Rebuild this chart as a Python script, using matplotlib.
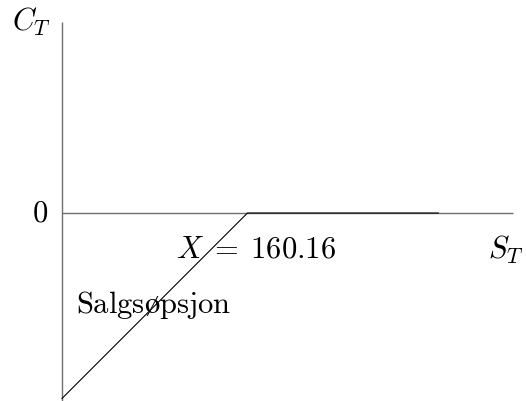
import matplotlib.pyplot as plt

plt.rcParams['mathtext.fontset'] = 'cm'

strike = 160.16
s_t = [0, 160.16, 325]
c_t = [-160.16, 0, 0]

# pixel -> data scale (equal aspect), origin at pixel (62, 213)
scale = 1.158
W, H = 526, 401
ox, oy = 62, 213

fig = plt.figure(figsize=(W / 100, H / 100), dpi=100)
ax = fig.add_axes([0, 0, 1, 1])
ax.set_xlim(-ox / scale, (W - ox) / scale)
ax.set_ylim(-(H - oy) / scale, oy / scale)
ax.axis('off')

# axes
ax.plot([0, 0], [-163, 165], color='#707070', lw=1.0, solid_capstyle='butt')
ax.plot([0, 389.5], [0, 0], color='#707070', lw=1.0, solid_capstyle='butt')

# short put payoff
ax.plot(s_t, c_t, color='black', lw=0.8)


def label(px, py, s, size=22, **kw):
    ax.text(px / W, 1 - py / H, s, transform=ax.transAxes, fontsize=size,
            ha='center', va='center', **kw)


label(31.5, 22, r'$C_T$')
label(40.5, 213, r'$0$')
label(256, 248.5, r'$X\;=\;%.2f$' % strike)
label(506, 249.5, r'$S_T$')
label(153.5, 305, r'$\mathrm{Salgs\o psjon}$')

fig.savefig('out.png', dpi=100)
